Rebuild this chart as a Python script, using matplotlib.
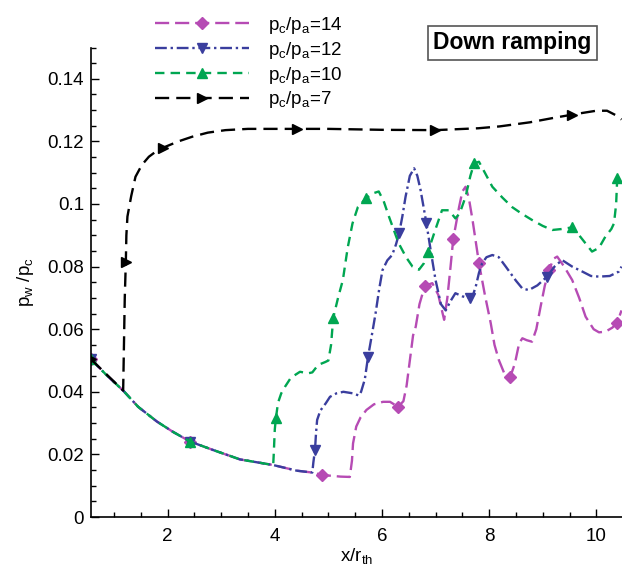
import numpy as np
import matplotlib
matplotlib.use("Agg")
import matplotlib.pyplot as plt
from matplotlib.ticker import MultipleLocator, FuncFormatter

plt.rcParams['font.family'] = ['Liberation Sans', 'DejaVu Sans']
plt.rcParams['mathtext.fontset'] = 'custom'
plt.rcParams['mathtext.rm'] = 'Liberation Sans'
plt.rcParams['mathtext.it'] = 'Liberation Sans:italic'

# ---- data ----
decay_x = [0.57, 0.85, 1.17, 1.45, 1.80, 2.10, 2.42, 2.85, 3.35, 3.97, 4.41, 4.70, 4.90, 5.23, 5.40]
decay_y = [0.0504, 0.0455, 0.0404, 0.0352, 0.0305, 0.0272, 0.0241, 0.0214, 0.0184, 0.0166, 0.0148, 0.0142, 0.0134, 0.0129, 0.0128]

p14_x = decay_x + [5.44, 5.46, 5.52, 5.60, 5.71, 5.85, 6.02, 6.15, 6.30, 6.40, 6.46, 6.52, 6.58, 6.63, 6.70, 6.80,
                   6.94, 7.05, 7.16, 7.22, 7.28, 7.33, 7.44, 7.50, 7.56, 7.62, 7.69, 7.75, 7.81, 7.92, 8.03, 8.10,
                   8.18, 8.28, 8.39, 8.48, 8.56, 8.62, 8.70, 8.80, 8.88, 8.96, 9.04, 9.12, 9.20, 9.27, 9.40, 9.55,
                   9.68, 9.80, 9.95, 10.05, 10.17, 10.30, 10.39, 10.47]
p14_y = decay_y + [0.018, 0.0235, 0.0289, 0.0318, 0.0342, 0.036, 0.0368, 0.0368, 0.0352, 0.037, 0.042, 0.050, 0.058, 0.0608, 0.068, 0.0739,
                   0.0747, 0.071, 0.063, 0.070, 0.080, 0.0888, 0.0991, 0.104, 0.1055, 0.102, 0.0949, 0.088, 0.0811, 0.071, 0.0619, 0.055,
                   0.0502, 0.046, 0.0446, 0.049, 0.0555, 0.0571, 0.0565, 0.056, 0.060, 0.0672, 0.074, 0.0789, 0.0825, 0.0832, 0.080, 0.0757,
                   0.070, 0.064, 0.060, 0.059, 0.0592, 0.0605, 0.0621, 0.066]
p14_mx = [0.57, 2.42, 4.89, 6.30, 6.80, 7.33, 7.81, 8.39, 9.12, 10.39]

p12_x = decay_x[:12] + [4.72, 4.75, 4.77, 4.79, 4.85, 4.95, 5.03, 5.15, 5.28, 5.46, 5.57, 5.61, 5.68, 5.74, 5.81, 5.88,
                        5.95, 6.01, 6.10, 6.19, 6.26, 6.32, 6.38, 6.44, 6.52, 6.60, 6.66, 6.72, 6.83, 6.92, 7.00, 7.10,
                        7.19, 7.28, 7.37, 7.50, 7.64, 7.70, 7.75, 7.81, 7.87, 7.95, 8.06, 8.18, 8.31, 8.50, 8.62, 8.74,
                        8.90, 9.08, 9.22, 9.36, 9.55, 9.74, 9.90, 10.05, 10.25, 10.42, 10.47]
p12_y = decay_y[:12] + [0.0175, 0.0214, 0.027, 0.031, 0.034, 0.0363, 0.0384, 0.0395, 0.040, 0.0395, 0.0388, 0.040, 0.044, 0.0512, 0.058, 0.065,
                        0.073, 0.0789, 0.082, 0.0837, 0.087, 0.0906, 0.096, 0.1023, 0.109, 0.1114, 0.109, 0.1045, 0.0938, 0.084, 0.0757, 0.068,
                        0.066, 0.069, 0.0715, 0.0705, 0.0699, 0.071, 0.0736, 0.078, 0.0811, 0.083, 0.0837, 0.083, 0.080, 0.0755, 0.073, 0.0725,
                        0.074, 0.0768, 0.080, 0.0821, 0.080, 0.0784, 0.077, 0.0768, 0.077, 0.0784, 0.080]
p12_mx = [0.57, 2.42, 4.75, 5.74, 6.32, 6.83, 7.64, 9.08]

p10_x = decay_x[:10] + [3.98, 4.00, 4.02, 4.06, 4.12, 4.19, 4.30, 4.47, 4.62, 4.70, 4.81, 4.94, 5.00, 5.05, 5.09, 5.18,
                        5.27, 5.36, 5.45, 5.55, 5.70, 5.85, 5.94, 6.03, 6.13, 6.31, 6.45, 6.57, 6.69, 6.78, 6.86, 7.00,
                        7.12, 7.25, 7.37, 7.45, 7.56, 7.65, 7.72, 7.81, 7.92, 8.06, 8.25, 8.43, 8.60, 8.80, 9.00, 9.18,
                        9.35, 9.54, 9.68, 9.80, 9.92, 10.05, 10.17, 10.28, 10.33, 10.37, 10.39, 10.42]
p10_y = decay_y[:10] + [0.0200, 0.0280, 0.0315, 0.0365, 0.0395, 0.0416, 0.0445, 0.0464, 0.0459, 0.0462, 0.0486, 0.0495, 0.0500, 0.055, 0.0636, 0.070,
                        0.0757, 0.086, 0.0938, 0.099, 0.1018, 0.1035, 0.104, 0.101, 0.096, 0.0875, 0.083, 0.080, 0.079, 0.081, 0.0848, 0.092,
                        0.098, 0.098, 0.0954, 0.097, 0.1023, 0.109, 0.113, 0.1135, 0.110, 0.1055, 0.102, 0.099, 0.097, 0.0949, 0.093, 0.0917,
                        0.092, 0.0925, 0.090, 0.0874, 0.0848, 0.086, 0.0896, 0.092, 0.0938, 0.100, 0.1082, 0.1095]
p10_mx = [0.57, 2.42, 4.02, 5.09, 5.70, 6.86, 7.72, 9.54, 10.39]

p7_x = [0.57, 1.17, 1.18, 1.20, 1.22, 1.23, 1.25, 1.32, 1.40, 1.52, 1.65, 1.80, 1.96, 2.20, 2.46, 2.75, 3.08, 3.50,
        4.32, 5.00, 6.00, 7.00, 7.80, 8.20, 8.76, 9.20, 9.60, 10.00, 10.20, 10.36, 10.47]
p7_y = [0.0504, 0.0404, 0.050, 0.070, 0.0815, 0.090, 0.096, 0.1025, 0.1087, 0.1125, 0.1151, 0.117, 0.1183, 0.120, 0.1215, 0.1228, 0.1236, 0.124,
        0.124, 0.124, 0.1237, 0.1236, 0.1242, 0.1248, 0.1261, 0.1275, 0.1287, 0.1298, 0.1298, 0.1284, 0.127]
p7_mx = [0.57, 1.22, 1.91, 4.41, 6.99, 9.54]

labels = [r'p$_\mathregular{c}$/p$_\mathregular{a}$=14', r'p$_\mathregular{c}$/p$_\mathregular{a}$=12',
          r'p$_\mathregular{c}$/p$_\mathregular{a}$=10', r'p$_\mathregular{c}$/p$_\mathregular{a}$=7']

# ---- figure ----
fig = plt.figure(figsize=(6.22, 5.71), dpi=100)
ax = fig.add_axes([91/622, 1-517/571, 530.5/622, 469.5/571])

series = [
    (p14_x, p14_y, p14_mx, '#B64BB4', 'D', (6, 2.5), 6.5),
    (p12_x, p12_y, p12_mx, '#3A3E9E', 'v', (5, 1.6, 1, 1.6), 7),
    (p10_x, p10_y, p10_mx, '#00A651', '^', (4, 2.6), 7),
    (p7_x, p7_y, p7_mx, '#000000', '>', (6, 3), 7),
]
handles = []
for (xs, ys, mx, c, m, d, ms), lab in zip(series, labels):
    ax.plot(xs, ys, color=c, lw=1.7, dashes=d)
    my = np.interp(mx, xs, ys)
    ax.plot(mx, my, ls='none', marker=m, color=c, ms=ms, mec=c)
    h, = ax.plot([], [], color=c, lw=1.7, dashes=d, marker=m, ms=ms, label=lab)
    handles.append(h)

ax.set_xlim(0.57, 10.47)
ax.set_ylim(0, 0.15)
ax.xaxis.set_major_locator(MultipleLocator(2))
ax.xaxis.set_minor_locator(MultipleLocator(0.5))
ax.yaxis.set_major_locator(MultipleLocator(0.02))
ax.yaxis.set_minor_locator(MultipleLocator(0.005))
ax.yaxis.set_major_formatter(FuncFormatter(lambda v, p: '%g' % round(v, 4)))
ax.tick_params(which='both', direction='in', top=False, right=False, labelsize=13.5, width=1)
ax.tick_params(which='major', length=6)
ax.tick_params(which='minor', length=3.5)
ax.tick_params(axis='x', pad=8)
ax.tick_params(axis='y', pad=5)
for s in ['top', 'right']:
    ax.spines[s].set_visible(False)
for s in ['left', 'bottom']:
    ax.spines[s].set_linewidth(1.2)

ax.set_xlabel(r'x/r$_\mathregular{th}$', fontsize=13.5, labelpad=1)
ax.set_ylabel(r'p$_\mathregular{w}$ /p$_\mathregular{c}$', fontsize=13.5, labelpad=8)

fig.legend(handles=handles, loc='upper left', bbox_to_anchor=(155/622, 1-15/571), frameon=False,
           fontsize=13.5, handlelength=5.0, handletextpad=1.0, labelspacing=0.2, borderpad=0, borderaxespad=0)

fig.text(512.5/622, 1-43/571, 'Down ramping', fontsize=16.5, fontweight='bold', ha='center', va='center',
         bbox=dict(boxstyle='square,pad=0.24', fc='white', ec='#555555', lw=1.2))

fig.savefig('out.png', dpi=100)
